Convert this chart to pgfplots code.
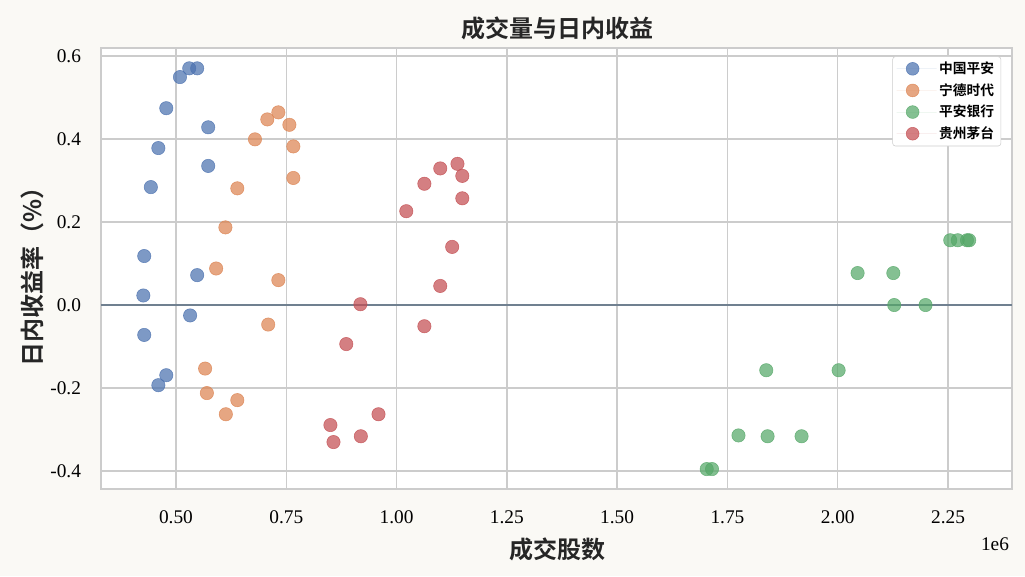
\documentclass[border=0pt]{standalone}
\usepackage{fontspec}
\setmainfont{Liberation Serif}
\newfontfamily\cjk{Noto Sans CJK SC}
\newfontfamily\cjkb{Noto Sans CJK SC Bold}
\usepackage{pgfplots}
\pgfplotsset{compat=1.18}
\usepackage{pgfplotstable}

\definecolor{figbg}{HTML}{FAF9F5}
\definecolor{gridc}{HTML}{CCCCCC}
\definecolor{zeroc}{HTML}{708090}
\definecolor{cblue}{HTML}{4C72B0}
\definecolor{corange}{HTML}{DD8452}
\definecolor{cgreen}{HTML}{55A868}
\definecolor{cred}{HTML}{C44E52}

% volume in millions, intraday return in %
\pgfplotstableread{
x y
0.530 0.570
0.548 0.570
0.509 0.549
0.478 0.474
0.573 0.428
0.460 0.378
0.573 0.335
0.443 0.284
0.428 0.118
0.548 0.072
0.426 0.023
0.532 -0.025
0.428 -0.072
0.478 -0.169
0.460 -0.193
}\pingan
\pgfplotstableread{
x y
0.732 0.464
0.707 0.447
0.757 0.434
0.679 0.399
0.766 0.382
0.766 0.306
0.639 0.281
0.612 0.187
0.591 0.088
0.732 0.060
0.709 -0.047
0.566 -0.153
0.570 -0.212
0.639 -0.229
0.613 -0.263
}\catl
\pgfplotstableread{
x y
2.255 0.156
2.272 0.156
2.293 0.156
2.298 0.156
2.045 0.077
2.126 0.077
2.128 0.000
2.199 0.000
1.838 -0.157
2.002 -0.157
1.775 -0.314
1.841 -0.316
1.918 -0.316
1.703 -0.395
1.715 -0.395
}\pab
\pgfplotstableread{
x y
1.138 0.340
1.099 0.329
1.149 0.311
1.063 0.292
1.149 0.257
1.022 0.226
1.126 0.140
1.099 0.046
0.918 0.002
1.063 -0.051
0.886 -0.094
0.959 -0.263
0.850 -0.289
0.919 -0.316
0.857 -0.330
}\maotai

\begin{document}
\begin{tikzpicture}
\fill[figbg] (0,0) rectangle (768.75pt,432pt);
\begin{axis}[
  at={(75.75pt,65.25pt)}, anchor=south west,
  scale only axis, width=683.25pt, height=330.75pt,
  axis background/.style={fill=white},
  xmin=0.33, xmax=2.395, ymin=-0.443, ymax=0.619,
  xtick={0.5,0.75,...,2.25}, ytick={-0.4,-0.2,...,0.6},
  grid=major, major grid style={gridc, line width=1.1pt},
  axis line style={gridc, line width=1.5pt},
  major tick length=0pt,
  /pgf/number format/assume math mode=true,
  ticklabel style={font=\fontsize{14.5}{16}\selectfont, text=black},
  xticklabel style={yshift=-12.5pt, /pgf/number format/.cd, fixed, fixed zerofill, precision=2},
  yticklabel style={xshift=-11.5pt, /pgf/number format/.cd, fixed, fixed zerofill, precision=1},
  xtick pos=bottom, ytick pos=left,
  legend style={at={(0.988,0.981)}, anchor=north east, draw=gridc, rounded corners=2pt,
    fill=white, font=\cjkb\fontsize{10.3}{12}\selectfont, row sep=1.9pt,
    inner xsep=3pt, inner ysep=2pt},
  legend cell align=left,
  legend image code/.code={
    \path[draw=none] (0cm,0cm) -- (1.05cm,0cm);
    \draw[#1, mark size=4.8pt, only marks] plot coordinates {(0.42cm,0cm)};
  },
]
\addplot[zeroc, line width=1.9pt, forget plot] coordinates {(0.33,0) (2.395,0)};
\addplot[only marks, mark=*, mark size=5pt, draw=cblue, fill=cblue, draw opacity=0.8, fill opacity=0.72] table {\pingan};
\addlegendentry{中国平安}
\addplot[only marks, mark=*, mark size=5pt, draw=corange, fill=corange, draw opacity=0.8, fill opacity=0.72] table {\catl};
\addlegendentry{宁德时代}
\addplot[only marks, mark=*, mark size=5pt, draw=cgreen, fill=cgreen, draw opacity=0.8, fill opacity=0.72] table {\pab};
\addlegendentry{平安银行}
\addplot[only marks, mark=*, mark size=5pt, draw=cred, fill=cred, draw opacity=0.8, fill opacity=0.72] table {\maotai};
\addlegendentry{贵州茅台}
\end{axis}
\node[text=black!85, font=\cjkb\fontsize{18}{20}\selectfont] at (417.75pt,411pt) {成交量与日内收益};
\node[text=black!85, font=\cjkb\fontsize{18}{20}\selectfont] at (417.75pt,20.25pt) {成交股数};
\node[text=black!85, font=\cjkb\fontsize{18}{20}\selectfont, rotate=90] at (24pt,228.75pt) {日内收益率（\%）};
\node[text=black, font=\fontsize{14.5}{16}\selectfont] at (746.25pt,24pt) {1e6};
\pgfresetboundingbox
\useasboundingbox (0,0) rectangle (768.75pt,432pt);
\end{tikzpicture}
\end{document}
